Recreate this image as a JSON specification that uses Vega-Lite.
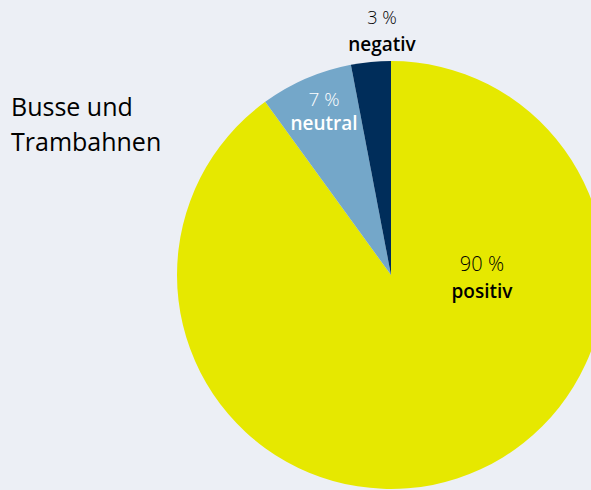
{
  "$schema": "https://vega.github.io/schema/vega-lite/v6.json",
  "width": 400,
  "height": 400,
  "autosize": {"type": "none"},
  "padding": {"left": 191, "top": 75, "right": 0, "bottom": 15},
  "background": "#eceff5",
  "config": {"view": {"stroke": null}, "font": "Open Sans"},
  "title": {
    "text": ["Busse und", "Trambahnen"],
    "anchor": "start",
    "frame": "group",
    "orient": "top",
    "offset": 0,
    "dx": -180,
    "dy": 146,
    "font": "Open Sans",
    "fontSize": 25,
    "fontWeight": 500,
    "color": "#000000",
    "lineHeight": 35
  },
  "data": {
    "values": [
      {"Kategorie": "positiv", "Anteil": 90, "Label": "90 %", "Rang": 1},
      {"Kategorie": "neutral", "Anteil": 7, "Label": "7 %", "Rang": 2},
      {"Kategorie": "negativ", "Anteil": 3, "Label": "3 %", "Rang": 3}
    ]
  },
  "layer": [
    {
      "mark": {"type": "arc", "outerRadius": 214},
      "encoding": {
        "theta": {"field": "Anteil", "type": "quantitative", "stack": true},
        "order": {"field": "Rang", "type": "quantitative"},
        "color": {
          "field": "Kategorie",
          "type": "nominal",
          "scale": {"domain": ["positiv", "neutral", "negativ"], "range": ["#e6e800", "#74a7c9", "#002d5a"]},
          "legend": null
        }
      }
    },
    {
      "transform": [{"filter": "datum.Kategorie === 'positiv'"}],
      "mark": {"type": "text", "theta": 1.604, "radius": 91, "dy": -13, "fontSize": 20, "fontWeight": 300, "font": "Open Sans", "color": "#000000", "baseline": "middle"},
      "encoding": {"text": {"field": "Label"}}
    },
    {
      "transform": [{"filter": "datum.Kategorie === 'positiv'"}],
      "mark": {"type": "text", "theta": 1.604, "radius": 91, "dy": 14, "fontSize": 19, "fontWeight": 600, "font": "Open Sans", "color": "#000000", "baseline": "middle"},
      "encoding": {"text": {"field": "Kategorie"}}
    },
    {
      "transform": [{"filter": "datum.Kategorie === 'neutral'"}],
      "mark": {"type": "text", "theta": 5.894, "radius": 176.7, "dy": -12, "fontSize": 19, "fontWeight": 300, "font": "Open Sans", "color": "#ffffff", "baseline": "middle"},
      "encoding": {"text": {"field": "Label"}}
    },
    {
      "transform": [{"filter": "datum.Kategorie === 'neutral'"}],
      "mark": {"type": "text", "theta": 5.894, "radius": 176.7, "dy": 12, "fontSize": 19, "fontWeight": 600, "font": "Open Sans", "color": "#ffffff", "baseline": "middle"},
      "encoding": {"text": {"field": "Kategorie"}}
    },
    {
      "transform": [{"filter": "datum.Kategorie === 'negativ'"}],
      "mark": {"type": "text", "theta": 6.246, "radius": 243.2, "dy": -13, "fontSize": 18, "fontWeight": 300, "font": "Open Sans", "color": "#000000", "baseline": "middle"},
      "encoding": {"text": {"field": "Label"}}
    },
    {
      "transform": [{"filter": "datum.Kategorie === 'negativ'"}],
      "mark": {"type": "text", "theta": 6.246, "radius": 243.2, "dy": 13, "fontSize": 19, "fontWeight": 600, "font": "Open Sans", "color": "#000000", "baseline": "middle"},
      "encoding": {"text": {"field": "Kategorie"}}
    }
  ]
}
